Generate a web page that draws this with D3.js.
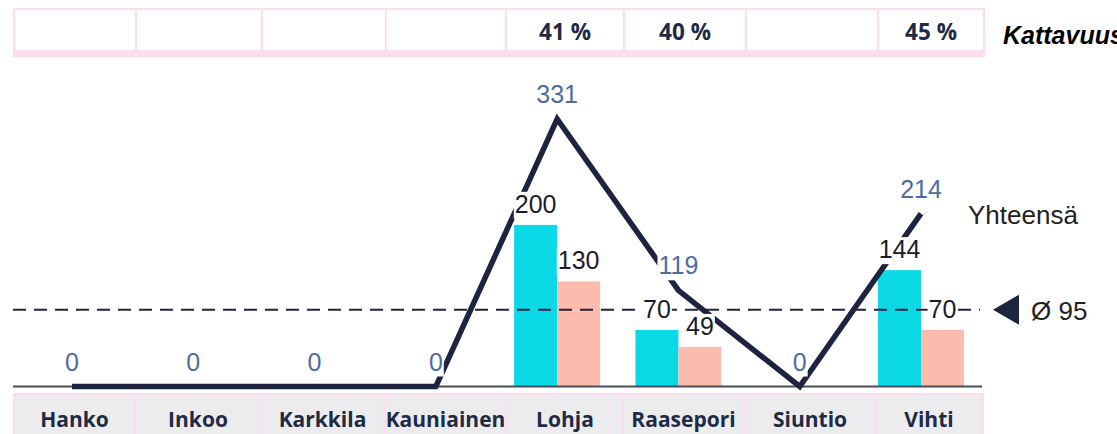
<!DOCTYPE html>
<html>
<head>
<meta charset="utf-8">
<script src="https://cdn.jsdelivr.net/npm/d3@7"></script>
<style>
  body { margin: 0; background: #fff; overflow: hidden; }
  svg { display: block; }
</style>
</head>
<body>
<div id="chart"></div>
<script>
const categories = ["Hanko", "Inkoo", "Karkkila", "Kauniainen", "Lohja", "Raasepori", "Siuntio", "Vihti"];
const totals = [0, 0, 0, 0, 331, 119, 0, 214];
const seriesA = [null, null, null, null, 200, 70, null, 144];
const seriesB = [null, null, null, null, 130, 49, null, 70];
const coverage = [null, null, null, null, 41, 40, null, 45];
const average = 95;
const totalLabel = "Yhteensä";
const coverageLabel = "Kattavuus";

// table cell edges (layout only)
const topEdges = [14, 136, 262, 386, 506, 624, 746, 878, 984];
const bottomEdges = [14, 135, 261, 384, 507, 623, 744, 876, 982];

const width = 1117, height = 434;
const pink = "#fcdcee", navy = "#1e2340";

const svg = d3.select("#chart").append("svg")
  .attr("width", width)
  .attr("height", height);

const x = d3.scalePoint().domain(categories).range([72, 921]);
const y = d3.scaleLinear().domain([0, 331]).range([386.5, 119]);
const barW = 43;

// top row: coverage
svg.append("rect").attr("x", 13).attr("y", 8).attr("width", 972).attr("height", 49).attr("fill", pink);
const topCells = svg.append("g");
categories.forEach((c, i) => {
  topCells.append("rect")
    .attr("x", topEdges[i] + 1)
    .attr("y", 10)
    .attr("width", topEdges[i + 1] - topEdges[i] - 2)
    .attr("height", 40)
    .attr("fill", "#fff");
  if (coverage[i] != null) {
    topCells.append("text")
      .attr("x", (topEdges[i] + topEdges[i + 1]) / 2)
      .attr("y", 31)
      .attr("text-anchor", "middle")
      .attr("dominant-baseline", "central")
      .style("font", "700 22.5px 'Open Sans', sans-serif")
      .attr("fill", "#1f2a44")
      .text(coverage[i] + " %");
  }
});
svg.append("text")
  .attr("x", 1003).attr("y", 35)
  .attr("dominant-baseline", "central")
  .style("font", "italic 700 25px 'Liberation Sans', Arial, sans-serif")
  .attr("fill", "#000")
  .text(coverageLabel);

// bottom row: categories
svg.append("rect").attr("x", 13).attr("y", 393).attr("width", 971).attr("height", 41).attr("fill", pink);
categories.forEach((c, i) => {
  svg.append("rect")
    .attr("x", bottomEdges[i] + 1)
    .attr("y", 395)
    .attr("width", bottomEdges[i + 1] - bottomEdges[i] - 2)
    .attr("height", 39)
    .attr("fill", "#ececef");
  svg.append("text")
    .attr("x", (bottomEdges[i] + bottomEdges[i + 1]) / 2)
    .attr("y", 419)
    .attr("text-anchor", "middle")
    .attr("dominant-baseline", "central")
    .style("font", "700 21px 'Open Sans', sans-serif")
    .attr("fill", "#1f2a44")
    .text(c);
});

// bars
const rows = categories.map((c, i) => ({ c, a: seriesA[i], b: seriesB[i], t: totals[i] }));
const withBars = rows.filter(d => d.a != null);

svg.selectAll("rect.barA").data(withBars).enter().append("rect")
  .attr("class", "barA")
  .attr("x", d => x(d.c) - barW)
  .attr("y", d => y(d.a))
  .attr("width", barW)
  .attr("height", d => y(0) - y(d.a))
  .attr("fill", "#0bd9e6");

svg.selectAll("rect.barB").data(withBars).enter().append("rect")
  .attr("class", "barB")
  .attr("x", d => x(d.c))
  .attr("y", d => y(d.b))
  .attr("width", barW)
  .attr("height", d => y(0) - y(d.b))
  .attr("fill", "#fbbcae");

// baseline
svg.append("line")
  .attr("x1", 13).attr("x2", 982)
  .attr("y1", y(0)).attr("y2", y(0))
  .attr("stroke", "#4a4d5c").attr("stroke-width", 2);

// average
svg.append("line")
  .attr("x1", 13).attr("x2", 980)
  .attr("y1", y(average)).attr("y2", y(average))
  .attr("stroke", navy).attr("stroke-width", 2)
  .attr("stroke-dasharray", "13,8");

svg.append("path")
  .attr("d", d3.line()(
    [[993, y(average)], [1019, y(average) - 15], [1019, y(average) + 15]]) + "Z")
  .attr("fill", navy);
svg.append("text")
  .attr("x", 1031).attr("y", y(average) + 10)
  .style("font", "26px 'Liberation Sans', Arial, sans-serif")
  .attr("fill", "#222")
  .text("Ø " + average);

// total line
svg.append("path")
  .datum(rows)
  .attr("d", d3.line().x(d => x(d.c)).y(d => y(d.t)))
  .attr("fill", "none")
  .attr("stroke", navy)
  .attr("stroke-width", 5.5)
  .attr("stroke-linejoin", "miter");

svg.append("text")
  .attr("x", 968).attr("y", 224)
  .style("font", "26px 'Liberation Sans', Arial, sans-serif")
  .attr("fill", "#222")
  .text(totalLabel);

// labels with white backing
function label(px, py, txt, color) {
  const g = svg.append("g");
  const t = g.append("text")
    .attr("x", px).attr("y", py)
    .attr("text-anchor", "middle")
    .style("font", "25px 'Liberation Sans', Arial, sans-serif")
    .attr("fill", color)
    .text(txt);
  const bb = t.node().getBBox();
  g.insert("rect", "text")
    .attr("x", bb.x - 1).attr("y", bb.y + 2)
    .attr("width", bb.width + 2).attr("height", bb.height - 1)
    .attr("fill", "#fff");
}

withBars.forEach(d => {
  label(x(d.c) - barW / 2, y(d.a) - 12, d.a, "#1c1c28");
  label(x(d.c) + barW / 2, y(d.b) - 12, d.b, "#1c1c28");
});
rows.forEach(d => label(x(d.c), y(d.t) - 16, d.t, "#4f6c9e"));
</script>
</body>
</html>
